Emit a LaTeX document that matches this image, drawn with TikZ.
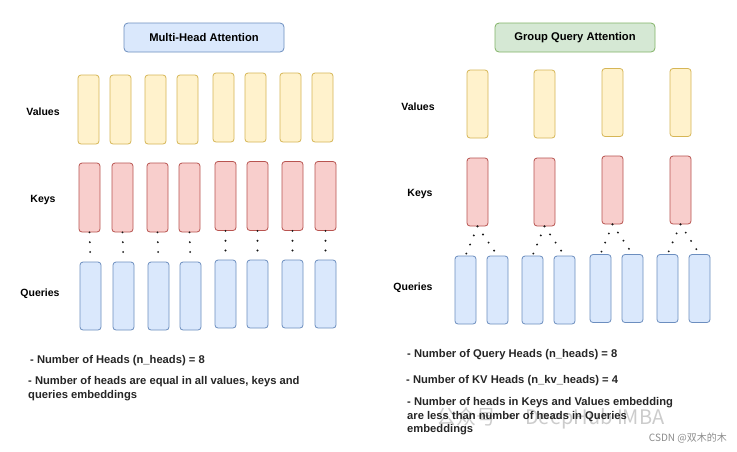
\documentclass[tikz,border=0pt]{standalone}
\usepackage{fontspec}
\setmainfont{Liberation Sans}
\newfontfamily\cjkfont{Noto Sans CJK SC}
\begin{document}
\begin{tikzpicture}[x=1pt,y=-1pt,
  bar/.style={draw, rounded corners=3pt, line width=0.8pt, minimum width=21pt, minimum height=68pt, inner sep=0pt},
  vbar/.style={bar, fill=yellowF, draw=yellowD},
  kbar/.style={bar, fill=redF, draw=redD},
  qbar/.style={bar, fill=blueF, draw=blueD},
  titlebox/.style={draw, rounded corners=4pt, line width=0.8pt, minimum width=160pt, minimum height=29pt, inner sep=0pt, font=\fontsize{11.2}{13}\selectfont\bfseries},
  rowlabel/.style={font=\fontsize{10.5}{12}\selectfont\bfseries, inner sep=0pt},
  desc/.style={font=\fontsize{11.2}{14}\selectfont\bfseries, inner sep=0pt, anchor=north west, align=left, text=black!85},
  dotline/.style={line width=2.1pt, line cap=round, dash pattern=on 0pt off 9.8pt, draw=black!90},
  wm/.style={inner sep=0pt, text=black!20}
]
\definecolor{yellowF}{HTML}{FFF2CC}
\definecolor{yellowD}{HTML}{D6B656}
\definecolor{redF}{HTML}{F8CECC}
\definecolor{redD}{HTML}{B85450}
\definecolor{blueF}{HTML}{DAE8FC}
\definecolor{blueD}{HTML}{6C8EBF}
\definecolor{greenF}{HTML}{D5E8D4}
\definecolor{greenD}{HTML}{82B366}
\fill[white] (0,0) rectangle (737,451);
\useasboundingbox (0,0) rectangle (737,451);

% ---------- watermarks (behind) ----------
\node[wm, font=\cjkfont\fontsize{20}{22}\selectfont, anchor=west] (w1) at (436,418) {公众号 · DeepHub IMBA};
\node[wm, text=black!45, font=\cjkfont\fontsize{10}{12}\selectfont, anchor=east] (w2) at (727,438) {CSDN @双木的木};

% ---------- Left: Multi-Head Attention ----------
\node[titlebox, fill=blueF, draw=blueD] (t1) at (204,37.5) {Multi-Head Attention};
\node[rowlabel] (lv) at (43,112) {Values};
\node[rowlabel] (lk) at (43,200) {Keys};
\node[rowlabel] (lq) at (40,294) {Queries};

\foreach \i/\x/\y in {1/88.5/109.5,2/120.5/109.5,3/155.5/109.5,4/187.5/109.5,5/223.5/107.5,6/255.5/107.5,7/290.5/107.5,8/322.5/107.5}
  \node[vbar, minimum height=69pt] (mv\i) at (\x,\y) {};
\foreach \i/\x/\y in {1/89.5/197.5,2/122.5/197.5,3/157.5/197.5,4/189.5/197.5,5/225.5/196,6/257.5/196,7/292.5/196,8/325.5/196}
  \node[kbar, minimum height=69pt] (mk\i) at (\x,\y) {};
\foreach \i/\x/\y in {1/90.5/296,2/123.5/296,3/158.5/296,4/190.5/296,5/225.5/294,6/257.5/294,7/292.5/294,8/325.5/294}
  \node[qbar] (mq\i) at (\x,\y) {};
\foreach \i in {1,...,8}
  \draw[dotline] (mk\i.south) -- (mq\i.north);

\node[desc] (d1) at (30,355) {- Number of Heads (n\_heads) = 8};
\node[desc] (d2) at (28,376) {- Number of heads are equal in all values, keys and\\queries embeddings};

% ---------- Right: Group Query Attention ----------
\node[titlebox, fill=greenF, draw=greenD] (t2) at (575,37.5) {Group Query Attention};
\node[rowlabel] (rv) at (418,107) {Values};
\node[rowlabel] (rk) at (420,194) {Keys};
\node[rowlabel] (rq) at (413,288) {Queries};

\foreach \i/\x/\y in {1/477.5/104,2/544.5/104,3/612.5/102.5,4/680.5/102.5}
  \node[vbar] (gv\i) at (\x,\y) {};
\foreach \i/\x/\y in {1/477.5/192,2/544.5/192,3/612.5/190,4/680.5/190}
  \node[kbar] (gk\i) at (\x,\y) {};
\foreach \i/\x/\y in {1/465.5/290,2/497.5/290,3/532.5/290,4/564.5/290,5/600.5/288.5,6/632.5/288.5,7/667.5/288.5,8/699.5/288.5}
  \node[qbar] (gq\i) at (\x,\y) {};
\draw[dotline] (gk1.south) -- (gq1.north);
\draw[dotline] (gk1.south) -- (gq2.north);
\draw[dotline] (gk2.south) -- (gq3.north);
\draw[dotline] (gk2.south) -- (gq4.north);
\draw[dotline] (gk3.south) -- (gq5.north);
\draw[dotline] (gk3.south) -- (gq6.north);
\draw[dotline] (gk4.south) -- (gq7.north);
\draw[dotline] (gk4.south) -- (gq8.north);

\node[desc] (e1) at (407,349) {- Number of Query Heads (n\_heads) = 8};
\node[desc] (e2) at (406,375) {- Number of KV Heads (n\_kv\_heads) = 4};
\node[desc, font=\fontsize{11.2}{13.8}\selectfont\bfseries] (e3) at (407,397) {- Number of heads in Keys and Values embedding\\are less than number of heads in Queries\\embeddings};
\end{tikzpicture}
\end{document}
